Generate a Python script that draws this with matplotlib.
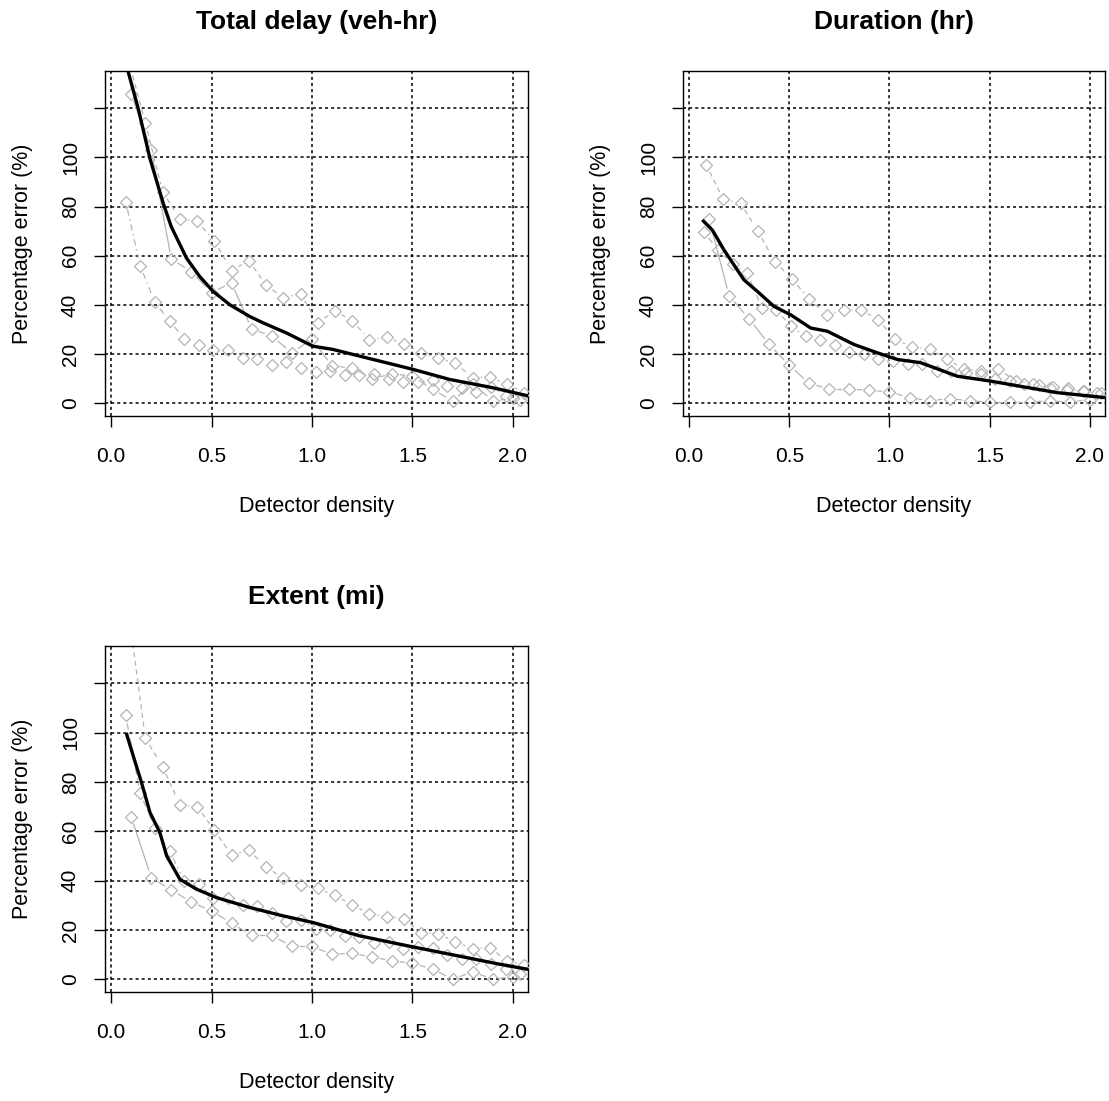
import numpy as np
import matplotlib
matplotlib.use("Agg")
from matplotlib import pyplot as plt

# detector density (detectors per mile) on the three test sections
xA = [0.086, 0.171, 0.257, 0.343, 0.429, 0.514, 0.600, 0.686, 0.771, 0.857, 0.943, 1.029,
      1.114, 1.200, 1.286, 1.371, 1.457, 1.543, 1.629, 1.714, 1.800, 1.886, 1.971, 2.057]
xB = [0.073, 0.145, 0.218, 0.291, 0.364, 0.436, 0.509, 0.582, 0.655, 0.727, 0.800, 0.873, 0.945, 1.018,
      1.091, 1.164, 1.236, 1.309, 1.382, 1.455, 1.527, 1.600, 1.673, 1.745, 1.818, 1.891, 1.964, 2.036]
xC = [0.1, 0.2, 0.3, 0.4, 0.5, 0.6, 0.7, 0.8, 0.9, 1.0,
      1.1, 1.2, 1.3, 1.4, 1.5, 1.6, 1.7, 1.8, 1.9, 2.0]

# Total delay (veh-hr)
delayA = [140, 114, 86, 75, 74, 66, 54, 58, 48, 43, 44.4, 32.7, 37.6, 33.6, 25.9, 26.8, 24.2, 20.5,
          18.5, 16.2, 10.4, 10.7, 7.7, 4.3]
delayB = [82, 56, 41, 33.6, 26.2, 23.5, 21.5, 21.5, 18.5, 17.8, 15.4, 16.7, 14.4, 12.7, 13.1, 11.3,
          11.3, 11.7, 9.7, 8.6, 8.6, 9.5, 7, 6, 4.5, 6.5, 3, 1.5]
delayC = [126, 103, 58.6, 53.6, 45, 49, 30.2, 27.3, 20.5, 26.2, 15.1, 14.4, 10, 12, 11, 5.7, 0.9, 8, 0.9, 2]
delayMeanX = [0.075, 0.136, 0.194, 0.26, 0.30, 0.376, 0.442, 0.508, 0.591, 0.69, 0.757, 0.873, 1.005,
              1.104, 1.27, 1.502, 1.684, 1.9, 2.075]
delayMeanY = [138, 119.7, 99.5, 81.3, 71.8, 59, 51.5, 45.5, 40.1, 35.3, 32.7, 28.6, 23.2, 21.9, 18.5,
              13.8, 9.7, 6.3, 3]

# Duration (hr)
durA = [97, 83, 81.5, 70, 57.6, 50.5, 42.4, 36, 37.8, 38.1, 34, 26, 22.8, 22.1, 18, 14, 13, 14, 9, 8,
        6, 5.5, 5, 4]
durB = [69.8, 62.3, 56.7, 52.9, 38.7, 37.8, 31.3, 27.2, 25.6, 23.5, 20.8, 20, 18, 17, 15.8, 15.8, 13,
        13, 12.4, 11.7, 10, 9, 8, 7.5, 6.5, 6, 5, 4]
durC = [75, 43.7, 34.3, 23.9, 15.4, 8.1, 5.7, 5.7, 5.3, 4.6, 2.3, 1, 1.9, 1, 0.5, 0.5, 0.5, 1, 0.5, 1.5]
durMeanX = [0.072, 0.117, 0.175, 0.274, 0.341, 0.424, 0.507, 0.607, 0.69, 0.823, 0.94, 1.039, 1.155,
            1.338, 1.504, 1.687, 1.837, 2.075]
durMeanY = [74.1, 70.4, 62.3, 50.2, 45.5, 39.4, 36, 30.6, 29.3, 23.9, 20.5, 17.8, 16.5, 11, 9, 6.4,
            4.3, 2.3]

# Extent (mi)
extA = [150, 97.7, 86.2, 70.7, 70, 60.5, 50.3, 52.4, 45.5, 41, 38.1, 36.8, 34, 30.1, 26.6, 25.4,
        24.6, 18.9, 18.5, 15.1, 12.4, 12.8, 7.4, 5.7]
extB = [107, 75.4, 61.5, 52, 40, 38.5, 33, 33.1, 30, 29.7, 27, 23.6, 24, 20.3, 20, 17.6, 17, 14.6,
        15, 12.2, 13, 12.8, 10, 8, 8, 6, 4, 2]
extC = [66, 41.2, 36.2, 31.3, 27.7, 22.7, 17.8, 17.8, 13.3, 13.3, 10.1, 10.5, 9, 7.4, 6.5, 4.1, 0, 3, 0, 1]
extMeanX = [0.078, 0.111, 0.152, 0.194, 0.243, 0.277, 0.343, 0.426, 0.525, 0.69, 0.856, 1.005, 1.237,
            1.436, 1.601, 1.767, 1.932, 2.075]
extMeanY = [99.3, 90.5, 79.7, 67.6, 59.5, 50, 40.5, 36.5, 33.1, 29.1, 25.7, 23, 17.6, 14.2, 11.5, 8.8,
            6.1, 4]

xTicks = [0.0, 0.5, 1.0, 1.5, 2.0]
xTickLabels = ["0.0", "0.5", "1.0", "1.5", "2.0"]
yTicks = [0, 20, 40, 60, 80, 100, 120]
yTickLabels = ["0", "20", "40", "60", "80", "100", ""]

plt.rcParams['font.family'] = ['Liberation Sans', 'DejaVu Sans']

W, H = 1109, 1101
fig = plt.figure(figsize=(W / 100, H / 100), dpi=100)
gray = '#b4b4b4'


def b_lines(ax, x, y, ls, gap=8.0):
    # lines broken around each point, like R's type="b"
    pts = ax.transData.transform(np.column_stack([x, y]))
    inv = ax.transData.inverted()
    for p, q in zip(pts[:-1], pts[1:]):
        d = q - p
        n = np.hypot(d[0], d[1])
        if n <= 2 * gap:
            continue
        u = d / n
        seg = inv.transform(np.array([p + u * gap, q - u * gap]))
        ax.plot(seg[:, 0], seg[:, 1], color=gray, lw=0.9, ls=ls, zorder=2)


def panel(left, top, right, bottom, title, ya, yb, yc, mx, my):
    ax = fig.add_axes([left / W, 1 - bottom / H, (right - left) / W, (bottom - top) / H])
    ax.set_xlim(-0.03, 2.075)
    ax.set_ylim(-5.2, 135.2)

    ax.set_xticks(xTicks)
    ax.set_xticklabels(xTickLabels)
    ax.set_yticks(yTicks)
    ax.set_yticklabels(yTickLabels, rotation=90, va='center')
    ax.tick_params(direction='out', length=8, width=1.0, labelsize=15, color='black')
    ax.tick_params(axis='x', pad=14)
    ax.tick_params(axis='y', pad=10)
    for s in ax.spines.values():
        s.set_linewidth(1.0)

    ax.grid(True, color='black', lw=1.1, ls=(0, (2, 2)), zorder=1)
    ax.set_axisbelow(True)

    b_lines(ax, xA, ya, (0, (4, 3)))
    b_lines(ax, xB, yb, (0, (5, 3, 1.2, 3)))
    b_lines(ax, xC, yc, '-')
    for x, y in [(xA, ya), (xB, yb), (xC, yc)]:
        ax.plot(x, y, ls='none', marker='D', ms=6.2, mfc='none', mec=gray, mew=0.9, zorder=3)

    ax.plot(mx, my, color='black', lw=2.4, zorder=4)

    ax.set_xlabel('Detector density', fontsize=15.5, labelpad=22)
    ax.set_ylabel('Percentage error (%)', fontsize=15.5, labelpad=20)
    fig.text((left + right) / 2 / W, 1 - (top - 49) / H, title, ha='center', va='center',
             fontsize=19, fontweight='bold')
    return ax


panel(105, 71, 528, 416, 'Total delay (veh-hr)', delayA, delayB, delayC, delayMeanX, delayMeanY)
panel(683, 71, 1105, 416, 'Duration (hr)', durA, durB, durC, durMeanX, durMeanY)
panel(105, 646, 528, 992, 'Extent (mi)', extA, extB, extC, extMeanX, extMeanY)

fig.savefig('out.png', dpi=100)
